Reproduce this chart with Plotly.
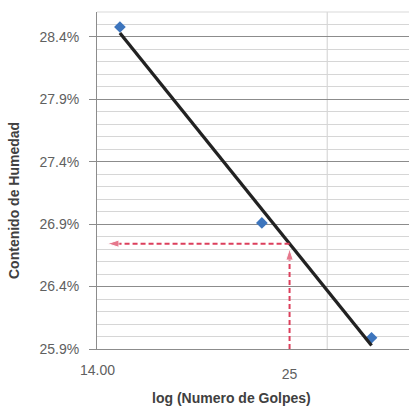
import numpy as np
import plotly.graph_objects as go

golpes = [15, 23, 32]
humedad = [0.2848, 0.2691, 0.2599]
x_target = [25]
y_ticks = [0.259, 0.264, 0.269, 0.274, 0.279, 0.284]
x_ticks = [14, 25]
x_tick_labels = ["14.00", "25"]
x_grid = [28]
x_title = "log (Numero de Golpes)"
y_title = "Contenido de Humedad"

# log-linear trend line (like Excel's logarithmic trendline)
lx = np.log10(golpes)
m, b = np.polyfit(lx, humedad, 1)
trend_x = [min(golpes), max(golpes)]
trend_y = [m * np.log10(v) + b for v in trend_x]
y_int = m * np.log10(x_target[0]) + b

red = "#dc3f5c"
fig = go.Figure()

fig.add_trace(go.Scatter(x=golpes, y=humedad, mode="markers",
                         marker=dict(symbol="diamond", size=9, color="#3d75bd"),
                         showlegend=False))
fig.add_trace(go.Scatter(x=trend_x, y=trend_y, mode="lines",
                         line=dict(color="#222222", width=3.3), showlegend=False))
# vertical dashed arrow
fig.add_trace(go.Scatter(x=[x_target[0], x_target[0]], y=[y_ticks[0], y_int - 0.0004],
                         mode="lines+markers",
                         line=dict(color=red, width=2, dash="5px,3px"),
                         marker=dict(symbol=["circle", "arrow"], size=[0, 12], color=red,
                                     angleref="previous"),
                         showlegend=False))
# horizontal dashed arrow
fig.add_trace(go.Scatter(x=[x_target[0], 14.45], y=[y_int, y_int],
                         mode="lines+markers",
                         line=dict(color=red, width=2, dash="5px,3px"),
                         marker=dict(symbol=["circle", "arrow"], size=[0, 12], color=red,
                                     angleref="previous"),
                         showlegend=False))

for gx in x_grid:
    fig.add_shape(type="line", xref="x", yref="paper", x0=gx, x1=gx, y0=0, y1=1,
                  line=dict(color="#d0d0d0", width=1), layer="below")

lx0 = np.log10(14)
fig.update_layout(
    width=409, height=407,
    margin=dict(l=97, r=0, t=12, b=58),
    paper_bgcolor="white", plot_bgcolor="white",
    font=dict(family="Liberation Sans, Arial, sans-serif", size=14, color="#606060"),
    xaxis=dict(type="log", range=[lx0, lx0 + 0.408],
               tickvals=x_ticks[1:], ticktext=x_tick_labels[1:],
               showgrid=False, zeroline=False,
               showline=True, linecolor="#8c8c8c", linewidth=1,
               ticks="outside", ticklen=12, tickcolor="rgba(0,0,0,0)"),
    yaxis=dict(range=[0.259, 0.286], tickvals=y_ticks, tickformat=".1%",
               showgrid=True, gridcolor="#8c8c8c", gridwidth=1,
               minor=dict(dtick=0.001, tick0=0.259, showgrid=True,
                          gridcolor="#d6d6d6", gridwidth=1),
               zeroline=False, showline=True, linecolor="#8c8c8c", linewidth=1,
               ticks="outside", ticklen=7, tickcolor="#8c8c8c",
               ticklabelstandoff=7),
)
# first x tick label placed at its axis value (plotly would otherwise nudge it inward)
fig.add_annotation(text=x_tick_labels[0], xref="x", yref="paper",
                   x=np.log10(x_ticks[0]), y=-(370 - 349) / 337,
                   xanchor="center", yanchor="middle", showarrow=False,
                   font=dict(size=14, color="#606060"))
fig.add_shape(type="line", xref="paper", yref="paper", x0=0, x1=1, y0=1, y1=1,
              line=dict(color="#d9d9d9", width=1))
fig.add_annotation(text="<b>" + x_title + "</b>", xref="paper", yref="paper",
                   x=(231 - 97) / 312, y=-(398 - 349) / 337, xanchor="center", yanchor="middle",
                   showarrow=False, font=dict(size=14, color="#404040"))
fig.add_annotation(text="<b>" + y_title + "</b>", xref="paper", yref="paper",
                   x=-(97 - 14) / 312, y=(349 - 201) / 337, xanchor="center", yanchor="middle",
                   textangle=-90, showarrow=False, font=dict(size=14, color="#404040"))

fig.write_html("out.html")
